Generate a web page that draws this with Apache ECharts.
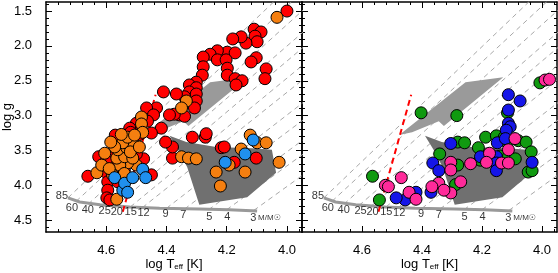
<!DOCTYPE html>
<html><head><meta charset="utf-8">
<script src="https://cdn.jsdelivr.net/npm/echarts@6/dist/echarts.min.js"></script>
<style>html,body{margin:0;padding:0;background:#fff}#c{width:558px;height:273px}</style>
</head><body><div id="c"></div>
<script>
// ---- tick values ----
const xMajor = [4.0, 4.2, 4.4, 4.6];
const xMinor = [3.96,4.04,4.08,4.12,4.16,4.24,4.28,4.32,4.36,4.44,4.48,4.52,4.56,4.64,4.68,4.72,4.76];
const yMajor = [1.5,2.0,2.5,3.0,3.5,4.0,4.5];
const yMinor = [1.4,1.6,1.7,1.8,1.9,2.1,2.2,2.3,2.4,2.6,2.7,2.8,2.9,3.1,3.2,3.3,3.4,3.6,3.7,3.8,3.9,4.1,4.2,4.3,4.4,4.6];

// ---- left panel stars [logTeff, logg] ----
const leftRed = [[4.00,1.50],[4.109,1.76],[4.086,1.80],[4.106,1.86],[4.099,1.94],[4.136,1.96],[4.152,1.87],[4.18,1.90],
 [4.102,2.17],[4.119,2.23],[4.069,2.33],[4.073,2.47],[4.198,2.09],[4.172,2.10],[4.231,2.07],[4.255,2.12],[4.278,2.16],
 [4.231,2.20],[4.202,2.20],[4.198,2.32],[4.198,2.42],[4.172,2.47],[4.149,2.50],[4.169,2.56],[4.278,2.30],[4.281,2.42],
 [4.301,2.52],[4.324,2.56],[4.301,2.60],[4.324,2.66],[4.301,2.69],[4.301,2.79],[4.307,2.89],[4.34,2.73],[4.367,2.69],
 [4.41,2.66],[4.357,2.99],[4.34,3.01],[4.374,2.98],[4.39,2.99],[4.417,3.18],[4.433,2.89],[4.466,2.89],[4.443,2.99],
 [4.463,3.08],[4.50,3.11],[4.522,3.18],[4.489,3.27],[4.45,3.25],[4.271,3.31],[4.314,3.31],[4.268,3.26],[4.218,3.46],
 [4.208,3.45],[4.38,3.61],[4.38,3.45],[4.403,3.38],[4.175,3.67],[4.102,3.61],[4.661,3.87],[4.602,3.81],[4.588,3.68],
 [4.595,3.95],[4.595,4.07],[4.598,4.18],[4.588,4.21],[4.562,3.95],[4.45,3.85],[4.476,3.62],[4.582,3.59],[4.506,3.46],
 [4.555,3.35],[4.625,3.59],[4.519,3.24],[4.555,3.52],[4.54,3.78],[4.50,3.55],[4.57,3.28],[4.53,3.40],[4.60,3.65]];
const leftOrange = [[4.033,1.59],[4.334,2.79],[4.35,2.89],[4.483,3.02],[4.483,3.12],[4.479,3.24],[4.122,3.28],[4.099,3.39],
 [4.069,3.39],[4.152,3.48],[4.35,3.59],[4.327,3.61],[4.301,3.62],[4.192,3.71],[4.235,3.81],[4.139,3.81],[4.026,3.67],
 [4.221,4.01],[4.631,3.82],[4.615,3.71],[4.579,3.85],[4.565,4.20],[4.50,3.71],[4.529,3.68],[4.555,3.71],[4.565,3.61],
 [4.539,3.59],[4.562,3.49],[4.532,3.46],[4.512,3.39],[4.545,3.39],[4.572,3.45],[4.529,3.31],[4.506,3.28],[4.605,3.54],
 [4.512,3.61],[4.55,3.27],[4.585,3.38],[4.52,3.52],[4.49,3.45],[4.59,3.76],[4.54,3.83]];
const leftBlue = [[4.112,3.35],[4.139,3.55],[4.205,3.67],[4.572,3.89],[4.545,4.07],[4.539,3.97],[4.529,4.10],[4.512,3.89],
 [4.479,3.77],[4.469,3.89]];

// ---- right panel stars ----
const rightGreen = [[4.007,2.53],[4.403,2.96],[4.284,3.00],[4.115,2.96],[4.188,3.31],[4.152,3.29],[4.126,3.31],[4.281,3.38],
 [4.258,3.39],[4.115,3.39],[4.079,3.36],[4.053,3.38],[4.036,3.52],[4.212,3.46],[4.205,3.64],[4.139,3.58],[4.112,3.59],
 [4.089,3.62],[4.046,3.81],[4.033,3.79],[4.341,3.55],[4.281,3.71],[4.288,3.99],[4.565,3.87],[4.542,4.21]];
const rightBlue = [[4.112,2.70],[4.073,2.79],[4.112,2.92],[4.112,3.11],[4.106,3.16],[4.119,3.21],[4.304,3.40],[4.149,3.39],
 [4.205,3.59],[4.152,3.59],[4.152,3.68],[4.152,3.79],[4.033,3.67],[4.364,3.68],[4.344,3.79],[4.37,4.10],[4.42,4.10],
 [4.456,4.21],[4.486,4.18],[4.122,3.33]];
const rightPink = [[3.99,2.49],[3.975,2.48],[4.112,3.49],[4.175,3.54],[4.135,3.68],[4.112,3.68],[4.185,3.67],[4.304,3.67],
 [4.304,3.78],[4.238,3.69],[4.271,3.95],[4.304,4.11],[4.344,3.97],[4.367,4.02],[4.327,4.07],[4.443,4.10],[4.42,4.20],
 [4.469,3.89],[4.522,4.00],[4.512,4.02],[4.09,3.33]];

// ---- model overlays ----
const zamsLine = [[4.727,4.18],[4.688,4.24],[4.621,4.28],[4.522,4.31],[4.423,4.33],[4.291,4.34],[4.192,4.35],[4.099,4.37]];
const redDashed = [[4.545,4.38],[4.436,2.70]];
const betaCepRegion = [[4.476,3.28],[4.255,2.52],[4.129,2.45],[4.327,3.15],[4.344,3.08],[4.433,3.24]];
const spbRegion = [[4.39,3.29],[4.334,3.38],[4.235,3.45],[4.116,3.47],[4.05,3.49],[4.036,3.82],[4.132,4.17],[4.291,4.28],
 [4.331,3.74],[4.36,3.50]];
const trackMasses = ['85','60','40','25','20','15','12','9','7','5','4','3'];
const tracks = [
 [[4.727,4.18],[3.85,0.57]],
 [[4.700,4.23],[3.85,0.83]],
 [[4.660,4.27],[3.85,1.11]],
 [[4.610,4.29],[3.85,1.44]],
 [[4.570,4.30],[3.85,1.67]],
 [[4.520,4.31],[3.85,1.93]],
 [[4.480,4.32],[3.85,2.15]],
 [[4.400,4.33],[3.85,2.49]],
 [[4.340,4.34],[3.85,2.75]],
 [[4.260,4.35],[3.85,3.04]],
 [[4.200,4.35],[3.85,3.25]],
 [[4.110,4.36],[3.85,3.55]]
];
const massLabels = [[4.747,4.15,'85'],[4.714,4.33,'60'],[4.661,4.35,'40'],[4.605,4.37,'25'],[4.565,4.38,'20'],
 [4.519,4.38,'15'],[4.476,4.40,'12'],[4.403,4.41,'9'],[4.344,4.43,'7'],[4.258,4.45,'5'],[4.198,4.45,'4'],[4.112,4.47,'3']];
const unitLabel = [[4.058,4.47,'M/M{s|☉}']];

const X_MIN=3.95, X_MAX=4.8, Y_MIN=1.37, Y_MAX=4.67;
const FONT = 'Liberation Sans';
const grids = [{left:46, top:2, width:256, height:230, outerBoundsMode:'none', containLabel:false},
               {left:302, top:2, width:255, height:230, outerBoundsMode:'none', containLabel:false}];

function xAxes(gi){
  const base = {gridIndex:gi, type:'value', min:X_MIN, max:X_MAX, inverse:true, splitLine:{show:false},
    axisLabel:{show:false}, axisTick:{show:false}, axisLine:{show:false}};
  const line = {show:true, onZero:false, lineStyle:{color:'#000', width:1.5}};
  return [
    Object.assign({}, base, {position:'bottom', axisLine:line,
      axisTick:{show:true, inside:true, length:6, customValues:xMajor, lineStyle:{color:'#000', width:1}},
      axisLabel:{show:true, customValues:xMajor, formatter:v=>v.toFixed(1), margin:12, color:'#000', fontSize:13, fontFamily:FONT},
      name:'log T{sub|eff} [K]', nameLocation:'middle', nameGap:25, nameMoveOverlap:false,
      nameTextStyle:{color:'#000', fontSize:13, lineHeight:14, fontFamily:FONT,
        rich:{sub:{fontSize:8, lineHeight:14, verticalAlign:'bottom', fontFamily:FONT}}}}),
    Object.assign({}, base, {position:'bottom', axisTick:{show:true, inside:true, length:3, customValues:xMinor, lineStyle:{color:'#000'}}}),
    Object.assign({}, base, {position:'top', axisLine:line,
      axisTick:{show:true, inside:true, length:6, customValues:xMajor, lineStyle:{color:'#000'}}}),
    Object.assign({}, base, {position:'top', axisTick:{show:true, inside:true, length:3, customValues:xMinor, lineStyle:{color:'#000'}}})
  ];
}
function yAxes(gi, labels){
  const base = {gridIndex:gi, type:'value', min:Y_MIN, max:Y_MAX, inverse:true, splitLine:{show:false},
    axisLabel:{show:false}, axisTick:{show:false}, axisLine:{show:false}};
  const line = {show:true, onZero:false, lineStyle:{color:'#000', width:1.5}};
  const main = Object.assign({}, base, {position:'left', axisLine:line,
      axisTick:{show:true, inside:true, length:6, customValues:yMajor, lineStyle:{color:'#000'}}});
  if (labels) {
    main.axisLabel = {show:true, customValues:yMajor, formatter:v=>v.toFixed(1), margin:14, color:'#000', fontSize:13, fontFamily:FONT};
    main.name = 'log g'; main.nameLocation='middle'; main.nameGap=32; main.nameRotate=90; main.nameMoveOverlap=false;
    main.nameTextStyle = {color:'#000', fontSize:13, fontFamily:FONT};
  }
  return [
    main,
    Object.assign({}, base, {position:'left', axisTick:{show:true, inside:true, length:3, customValues:yMinor, lineStyle:{color:'#000'}}}),
    Object.assign({}, base, {position:'right', axisLine:line,
      axisTick:{show:true, inside:true, length:6, customValues:yMajor, lineStyle:{color:'#000'}}}),
    Object.assign({}, base, {position:'right', axisTick:{show:true, inside:true, length:3, customValues:yMinor, lineStyle:{color:'#000'}}})
  ];
}

function polySeries(gi, pts, color){
  return {type:'custom', xAxisIndex:gi*4, yAxisIndex:gi*4, z:3, silent:true, clip:true, data:[0],
    renderItem:(params, api)=>({type:'polygon', shape:{points: pts.map(p=>api.coord(p))}, style:{fill:color}})};
}
function lineSeries(gi, pts, style, z){
  return {type:'line', xAxisIndex:gi*4, yAxisIndex:gi*4, z:z, silent:true, symbol:'none', clip:true,
    data:pts, lineStyle:style, animation:false};
}
function starSeries(gi, pts, color){
  return {type:'scatter', xAxisIndex:gi*4, yAxisIndex:gi*4, z:10, symbolSize:12, data:pts,
    itemStyle:{color:color, borderColor:'#000', borderWidth:1, opacity:1}};
}
function labelSeries(gi){
  return [{type:'scatter', xAxisIndex:gi*4, yAxisIndex:gi*4, z:12, symbolSize:2, silent:true,
    itemStyle:{color:'rgba(0,0,0,0)'}, data:massLabels,
    label:{show:true, position:'inside', formatter:p=>p.data[2], color:'#000', fontSize:11, fontFamily:FONT}},
   {type:'scatter', xAxisIndex:gi*4, yAxisIndex:gi*4, z:12, symbolSize:2, silent:true,
    itemStyle:{color:'rgba(0,0,0,0)'}, data:unitLabel,
    label:{show:true, position:'inside', formatter:p=>p.data[2], color:'#000', fontSize:8, fontFamily:FONT,
      rich:{s:{fontSize:8, fontFamily:'DejaVu Sans', verticalAlign:'bottom'}}}}];
}

const series = [];
[0,1].forEach(gi=>{
  tracks.forEach(t=>series.push(lineSeries(gi, t, {color:'#a8a8a8', width:1, type:[5,4]}, 1)));
  series.push(polySeries(gi, betaCepRegion, '#9a9a9a'));
  series.push(polySeries(gi, spbRegion, '#707070'));
  series.push(lineSeries(gi, zamsLine, {color:'#999', width:3}, 4));
  series.push(lineSeries(gi, redDashed, {color:'#ff0000', width:2, type:[6,4]}, 5));
  labelSeries(gi).forEach(s=>series.push(s));
});
series.push(starSeries(0, leftRed, '#ff0000'));
series.push(starSeries(0, leftOrange, '#f57f10'));
series.push(starSeries(0, leftBlue, '#2090ee'));
series.push(starSeries(1, rightGreen, '#109a10'));
series.push(starSeries(1, rightBlue, '#1515e8'));
series.push(starSeries(1, rightPink, '#ff2a9a'));

const chart = echarts.init(document.getElementById('c'), null, {renderer:'canvas'});
chart.setOption({
  animation:false,
  grid: grids,
  xAxis: xAxes(0).concat(xAxes(1)),
  yAxis: yAxes(0, true).concat(yAxes(1, false)),
  series: series
});
</script></body></html>
